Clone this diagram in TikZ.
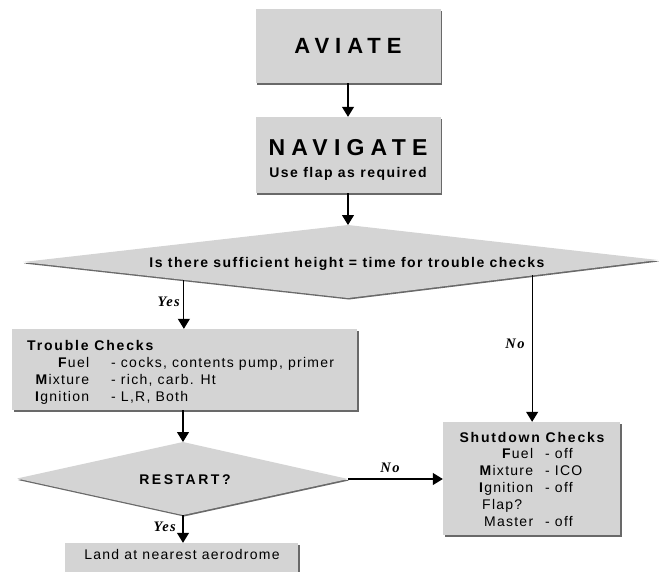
\documentclass[tikz,border=0pt]{standalone}
\usepackage{fontspec}
\setmainfont{Liberation Sans}[LetterSpace=9]
\newfontfamily\wfont{Liberation Sans}[LetterSpace=27]
\newfontfamily\rfont{Liberation Sans}[LetterSpace=18]
\newfontfamily\tfont{Liberation Sans}[LetterSpace=13]
\newfontfamily\qfont{Liberation Sans}[LetterSpace=10.5]
\newfontfamily\lfont{Liberation Serif}[LetterSpace=10]
\usetikzlibrary{arrows.meta,calc,shadows}
\definecolor{boxgray}{RGB}{212,212,212}
\definecolor{shadowgray}{RGB}{105,105,105}
\begin{document}
\begin{tikzpicture}[x=1pt,y=-1pt,
  every node/.style={font=\fontsize{14}{16}\selectfont},
  box/.style={fill=boxgray, inner sep=0pt,
    drop shadow={shadow xshift=1.5pt,shadow yshift=-1.5pt,fill=shadowgray,opacity=1}},
  arr/.style={-{Triangle[width=12pt,length=10pt]}, line width=1.1pt},
  lab/.style={font={\lfont\fontsize{14.5}{14.5}\selectfont\bfseries\itshape}, inner sep=0pt},
  txt/.style={inner sep=0pt},
  dshadow/.style={fill=shadowgray},
  dfill/.style={fill=boxgray}
]
\useasboundingbox (0,0) rectangle (659,571);
\clip (0,0) rectangle (659,571);

% AVIATE
\node[box, minimum width=185pt, minimum height=74pt] (aviate) at (348,46)
  {\wfont\fontsize{22}{22}\selectfont\bfseries AVIATE};

% NAVIGATE
\node[box, minimum width=185pt, minimum height=76pt] (navigate) at (348,155) {};
\node[txt] (navt) at (348,148) {\wfont\fontsize{23}{23}\selectfont\bfseries NAVIGATE};
\node[txt] (navs) at (348,174) {\qfont\bfseries Use flap as required};

% Question diamond
\coordinate (q1l) at (23,262);
\coordinate (q1t) at (348,225);
\coordinate (q1r) at (658,260);
\coordinate (q1b) at (348,298);
\fill[dshadow] ($(q1l)+(1,1.5)$) -- ($(q1t)+(1,1.5)$) -- ($(q1r)+(1,1.5)$) -- ($(q1b)+(1,1.5)$) -- cycle;
\fill[dfill] (q1l) -- (q1t) -- (q1r) -- (q1b) -- cycle;
\node[txt] (q1) at (347,264) {\qfont\bfseries Is there sufficient height = time for trouble checks};

% Trouble checks
\node[box, minimum width=345pt, minimum height=81pt] (trouble) at (184.5,369.5) {};
\node[txt, anchor=base west] (ttext) at (35,350) {\fontsize{14}{17.3}\selectfont
  \begin{tabular}[t]{@{}r@{\hspace{22pt}}l@{}}
  \multicolumn{2}{@{\hspace{-8pt}}l@{}}{\tfont\bfseries Trouble Checks}\\
  \textbf{F}uel & - cocks, contents pump, primer\\
  \textbf{M}ixture & - rich, carb. Ht\\
  \textbf{I}gnition & - L,R, Both
  \end{tabular}};

% Shutdown checks
\node[box, minimum width=177pt, minimum height=113pt] (shut) at (531.5,478.5) {};
\node[txt] (stitle) at (532,437) {\tfont\bfseries Shutdown Checks};
\node[txt, anchor=base west] (stext) at (479,458) {\fontsize{14}{17.2}\selectfont
  \begin{tabular}[t]{@{}r@{\hspace{12pt}}l@{}}
  \textbf{F}uel & - off\\
  \textbf{M}ixture & - ICO\\
  \textbf{I}gnition & - off\\
  \multicolumn{1}{@{\hspace{3pt}}l@{\hspace{12pt}}}{Flap?} & \\
  Master & - off
  \end{tabular}};

% Restart diamond
\coordinate (rl) at (17,478.5);
\coordinate (rt) at (183,442);
\coordinate (rr) at (348,479);
\coordinate (rb) at (183,515);
\fill[dshadow] ($(rl)+(1,1.5)$) -- ($(rt)+(1,1.5)$) -- ($(rr)+(1,1.5)$) -- ($(rb)+(1,1.5)$) -- cycle;
\fill[dfill] (rl) -- (rt) -- (rr) -- (rb) -- cycle;
\node[txt] (restart) at (185,480) {\rfont\bfseries RESTART?};

% Land box
\node[box, minimum width=233pt, minimum height=40pt] (land) at (181.5,563) {};
\node[txt] (landt) at (182,554) {Land at nearest aerodrome};

% Connectors
\draw[arr] (aviate.south) -- (navigate.north);
\draw[arr] (navigate.south) -- (q1t);
\coordinate (yes1) at ($(q1l)!0.495!(q1b)$);
\draw[arr] (yes1) -- (yes1 |- trouble.north);
\coordinate (no1) at ($(q1b)!0.594!(q1r)$);
\draw[arr] (no1) -- (no1 |- shut.north);
\draw[arr] (rt |- trouble.south) -- (rt);
\draw[arr] (rr) -- (rr -| shut.west);
\draw[arr] (rb) -- (rb |- land.north);

% Labels
\node[lab, anchor=east] (yl1) at (180,302) {Yes};
\node[lab] (nl1) at (515,344) {No};
\node[lab] (nl2) at (390,468) {No};
\node[lab, anchor=east] (yl2) at (176,527) {Yes};
\end{tikzpicture}
\end{document}
